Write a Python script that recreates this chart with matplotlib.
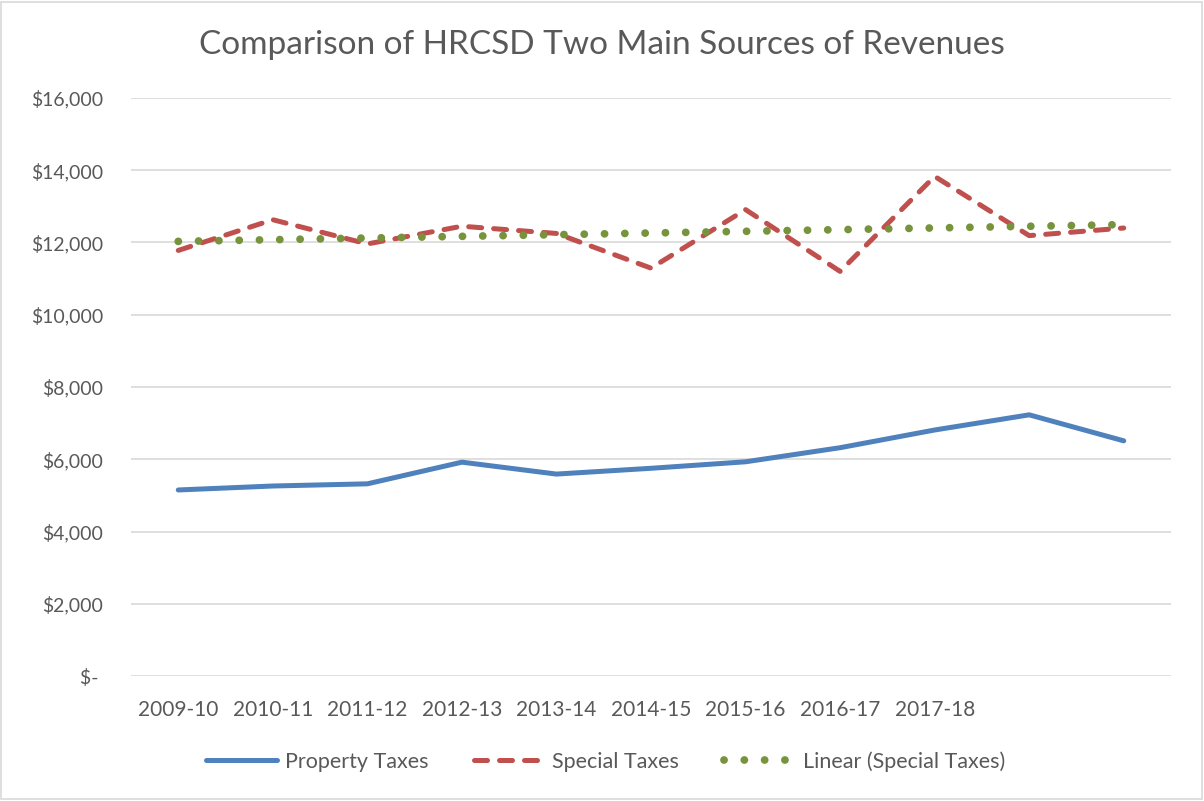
import matplotlib.pyplot as plt
import numpy as np
from matplotlib.patches import Rectangle
from matplotlib.ticker import FuncFormatter

# category axis: 11 points, only the first nine are labelled
years = ['2009-10', '2010-11', '2011-12', '2012-13', '2013-14', '2014-15',
         '2015-16', '2016-17', '2017-18', '', '']
property_taxes = [5150, 5260, 5320, 5920, 5590, 5750, 5930, 6320, 6810, 7230, 6510]
special_taxes = [11780, 12630, 11960, 12450, 12250, 11290, 12910, 11200, 13830, 12190, 12400]
yticks = [0, 2000, 4000, 6000, 8000, 10000, 12000, 14000, 16000]

plt.rcParams['font.family'] = ['Lato', 'DejaVu Sans']
grey = '#595959'

fig = plt.figure(figsize=(12.04, 8.01), dpi=100)
ax = fig.add_axes([0.1088, 0.156, 0.8638, 0.7217])

x = np.arange(len(years))
ax.plot(x, property_taxes, color='#4F81BD', linewidth=3.6,
        solid_capstyle='round', solid_joinstyle='round', label='Property Taxes', zorder=3)
ax.plot(x, special_taxes, color='#C0504D', linewidth=3.6,
        linestyle=(0, (2.6, 2.4)), dash_capstyle='round', label='Special Taxes', zorder=4)

# linear trendline, as Excel computes it
slope, intercept = np.polyfit(x, special_taxes, 1)
ax.plot(x, slope * x + intercept, color='#77933C', linewidth=5.6,
        linestyle=(0, (0.01, 2.6)), dash_capstyle='round',
        label='Linear (Special Taxes)', zorder=5)

ax.set_xlim(-0.5, len(years) - 0.5)
ax.set_ylim(0, 16000)
ax.set_yticks(yticks)
ax.yaxis.set_major_formatter(FuncFormatter(
    lambda v, p: '$- ' if v == 0 else '${:,.0f}'.format(v)))
ax.set_xticks(x)
ax.set_xticklabels(years)

ax.grid(axis='y', color='#D9D9D9', linewidth=1.2)
ax.set_axisbelow(True)
for s in ax.spines.values():
    s.set_visible(False)
ax.tick_params(axis='y', length=0, labelsize=14, colors=grey, pad=20)
ax.tick_params(axis='x', length=0, labelsize=15, colors=grey, pad=17)

fig.suptitle('Comparison of HRCSD Two Main Sources of Revenues',
             fontsize=24, color=grey, y=0.962)

leg = fig.legend(loc='lower center', ncol=3, frameon=False, fontsize=15.5,
                 bbox_to_anchor=(0.503, 0.012), handlelength=3.3, columnspacing=2.1,
                 handletextpad=0.35)
for t in leg.get_texts():
    t.set_color(grey)

fig.patches.append(Rectangle((0.001, 0.002), 0.997, 0.996, transform=fig.transFigure,
                             fill=False, edgecolor='#D9D9D9', linewidth=1.2))

fig.savefig('out.png', dpi=100)
